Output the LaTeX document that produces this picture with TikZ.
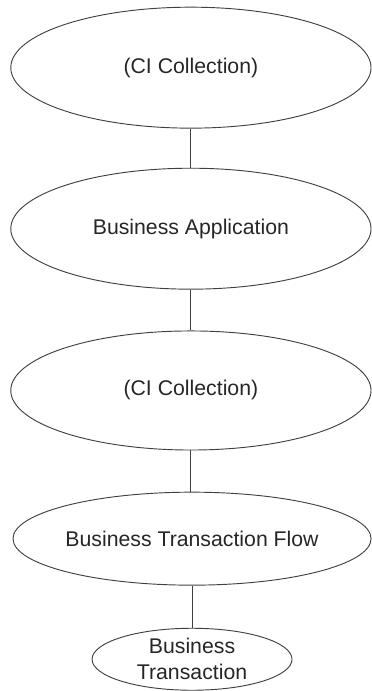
\documentclass[tikz,border=0pt]{standalone}
\usepackage{fontspec}
\setmainfont{Liberation Sans}
\usetikzlibrary{shapes.geometric}

\begin{document}
\begin{tikzpicture}[
  ci/.style={ellipse,draw=black!75,line width=0.7pt,inner sep=0pt,text=black!85,
    font=\fontsize{16}{19.5}\selectfont,align=center},
  link/.style={draw=black!75,line width=0.7pt}]
\useasboundingbox (0,0) rectangle (9.82,-18.28);
\node[ci,minimum width=9.53cm,minimum height=3.2cm] (coll1) at (5.05,-1.79) {(CI Collection)};
\node[ci,minimum width=9.53cm,minimum height=3.2cm] (app) at (5.05,-6.05) {Business Application};
\node[ci,minimum width=9.53cm,minimum height=3.15cm] (coll2) at (5.05,-10.33) {(CI Collection)};
\node[ci,minimum width=7.49cm,minimum height=2.46cm] (flow) at (5.08,-14.25) {Business Transaction Flow};
\node[ci,minimum width=5.29cm,minimum height=1.64cm] (trans) at (5.08,-17.44) {Business\\Transaction};
\draw[link] (coll1.south) -- (app.north);
\draw[link] (app.south) -- (coll2.north);
\draw[link] (coll2.south) -- (coll2.south |- flow.north);
\draw[link] (flow.south) -- (trans.north);
\end{tikzpicture}
\end{document}
